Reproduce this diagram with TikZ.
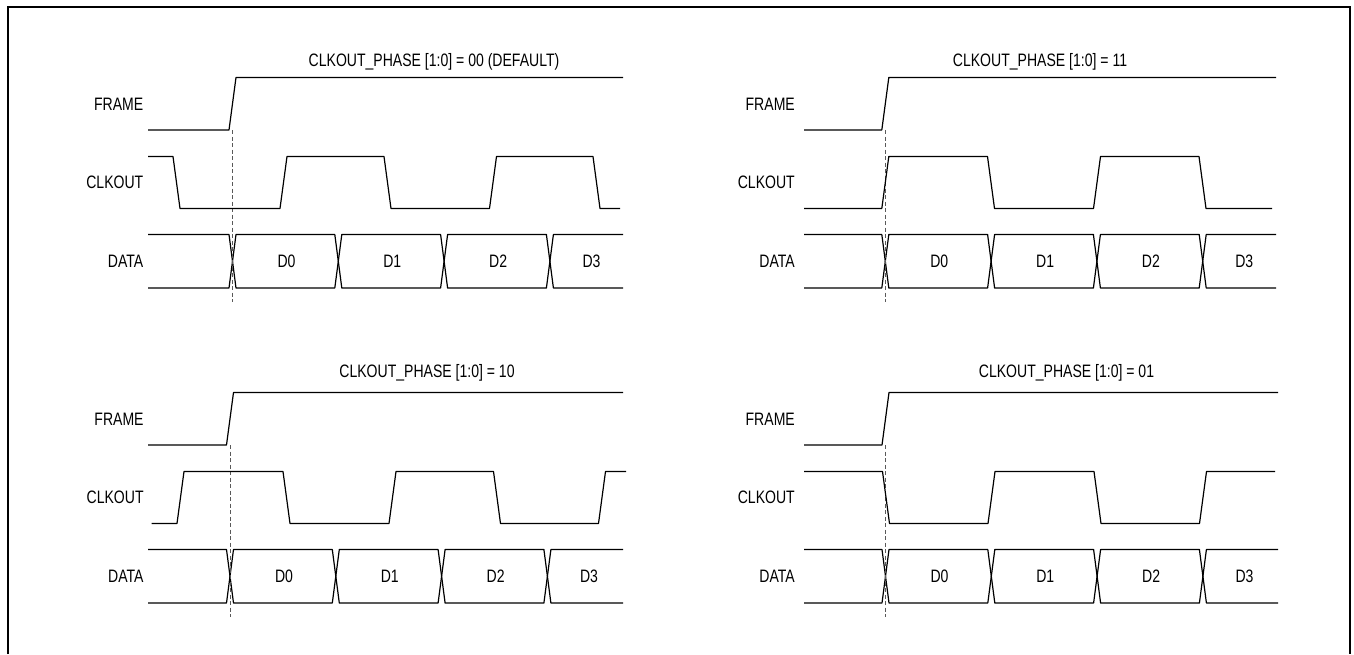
\documentclass[tikz,border=0pt]{standalone}
\usepackage{fontspec}
\setmainfont{Liberation Sans}[FakeStretch=0.78]
\usetikzlibrary{calc}
\tikzset{
  sig/.style={line width=1.2pt,line join=round},
  guide/.style={line width=1pt,dash pattern=on 4pt off 2.5pt,black!65},
  outline/.style={line width=2pt},
  siglbl/.style={anchor=east,inner sep=0pt,font=\fontsize{18}{20}\selectfont},
  cellbl/.style={inner sep=0pt,font=\fontsize{18}{20}\selectfont},
  phasettl/.style={inner sep=0pt,font=\fontsize{18}{20}\selectfont}
}

\begin{document}
\begin{tikzpicture}[x=1pt,y=-1pt]
\useasboundingbox (0,0) rectangle (1354,654);
\draw[outline] (8.3,654) -- (8.3,7.3) -- (1350,7.3) -- (1350,654);

% one panel per phase setting: label edge / line start / line end / top / edge / title
\foreach \lbx/\stx/\enx/\yo/\tzero/\ttx/\tty/\pn/\phs in {
  143.5/148/623/77.5/232.5/434/61.7/a/00 (DEFAULT),
  795/804/1276/77.5/885.3/1040/61.7/b/11,
  143.8/148/623/392.5/230/427/373.3/c/10,
  795/804/1278/392.5/885.5/1066.5/373.3/d/01}{
  \node[phasettl] (title-\pn) at (\ttx,\tty) {CLKOUT\_PHASE [1:0] = \phs};
  \node[siglbl] (frame-\pn) at (\lbx,\yo+26.5) {FRAME};
  \node[siglbl] (clk-\pn) at (\lbx,\yo+105) {CLKOUT};
  \node[siglbl] (data-\pn) at (\lbx,\yo+184) {DATA};
  % frame goes high at the reference edge
  \draw[sig] (\stx,\yo+52.5) -- (\tzero-3.5,\yo+52.5) -- (\tzero+3.5,\yo) -- (\enx,\yo);
  % data bus
  \draw[sig] (\stx,\yo+157) -- (\tzero-3.5,\yo+157) -- (\tzero,\yo+183.75)
    -- (\tzero-3.5,\yo+210.5) -- (\stx,\yo+210.5);
  \foreach \k in {0,1,2}{
    \pgfmathsetmacro\ca{\tzero+\k*105.8}
    \pgfmathsetmacro\cb{\ca+105.8}
    \draw[sig] (\ca,\yo+183.75) -- (\ca+3.5,\yo+157) -- (\cb-3.5,\yo+157) -- (\cb,\yo+183.75)
      -- (\cb-3.5,\yo+210.5) -- (\ca+3.5,\yo+210.5) -- cycle;
  }
  \pgfmathsetmacro\cl{\tzero+317.4}
  \draw[sig] (\enx,\yo+157) -- (\cl+3.5,\yo+157) -- (\cl,\yo+183.75)
    -- (\cl+3.5,\yo+210.5) -- (\enx,\yo+210.5);
  \foreach \k/\dx in {0/54,1/159.8,2/265.6,3/359}
    \node[cellbl] (d\k-\pn) at (\tzero+\dx,\yo+184) {D\k};
  \draw[guide] (\tzero,\yo+52.5) -- (\tzero,\yo+224);
}

% clock outputs
\draw[sig] (148,156.5) -- (173,156.5) -- (180,208.5) -- (280,208.5) -- (287,156.5) -- (384,156.5)
  -- (391,208.5) -- (489.5,208.5) -- (496.5,156.5) -- (593,156.5) -- (600,208.5) -- (620,208.5);
\draw[sig] (804,208.5) -- (881.8,208.5) -- (888.8,156.5) -- (987.5,156.5) -- (994.5,208.5)
  -- (1093.5,208.5) -- (1100.5,156.5) -- (1199,156.5) -- (1206,208.5) -- (1272,208.5);
\draw[sig] (151.5,523.5) -- (177,523.5) -- (184,471.5) -- (283,471.5) -- (290,523.5) -- (389,523.5)
  -- (396,471.5) -- (493.5,471.5) -- (500.5,523.5) -- (598.5,523.5) -- (605.5,471.5) -- (626,471.5);
\draw[sig] (804,471.5) -- (882.5,471.5) -- (889.5,523.5) -- (988,523.5) -- (995,471.5)
  -- (1094,471.5) -- (1101,523.5) -- (1199.5,523.5) -- (1206.5,471.5) -- (1275,471.5);
\end{tikzpicture}
\end{document}
